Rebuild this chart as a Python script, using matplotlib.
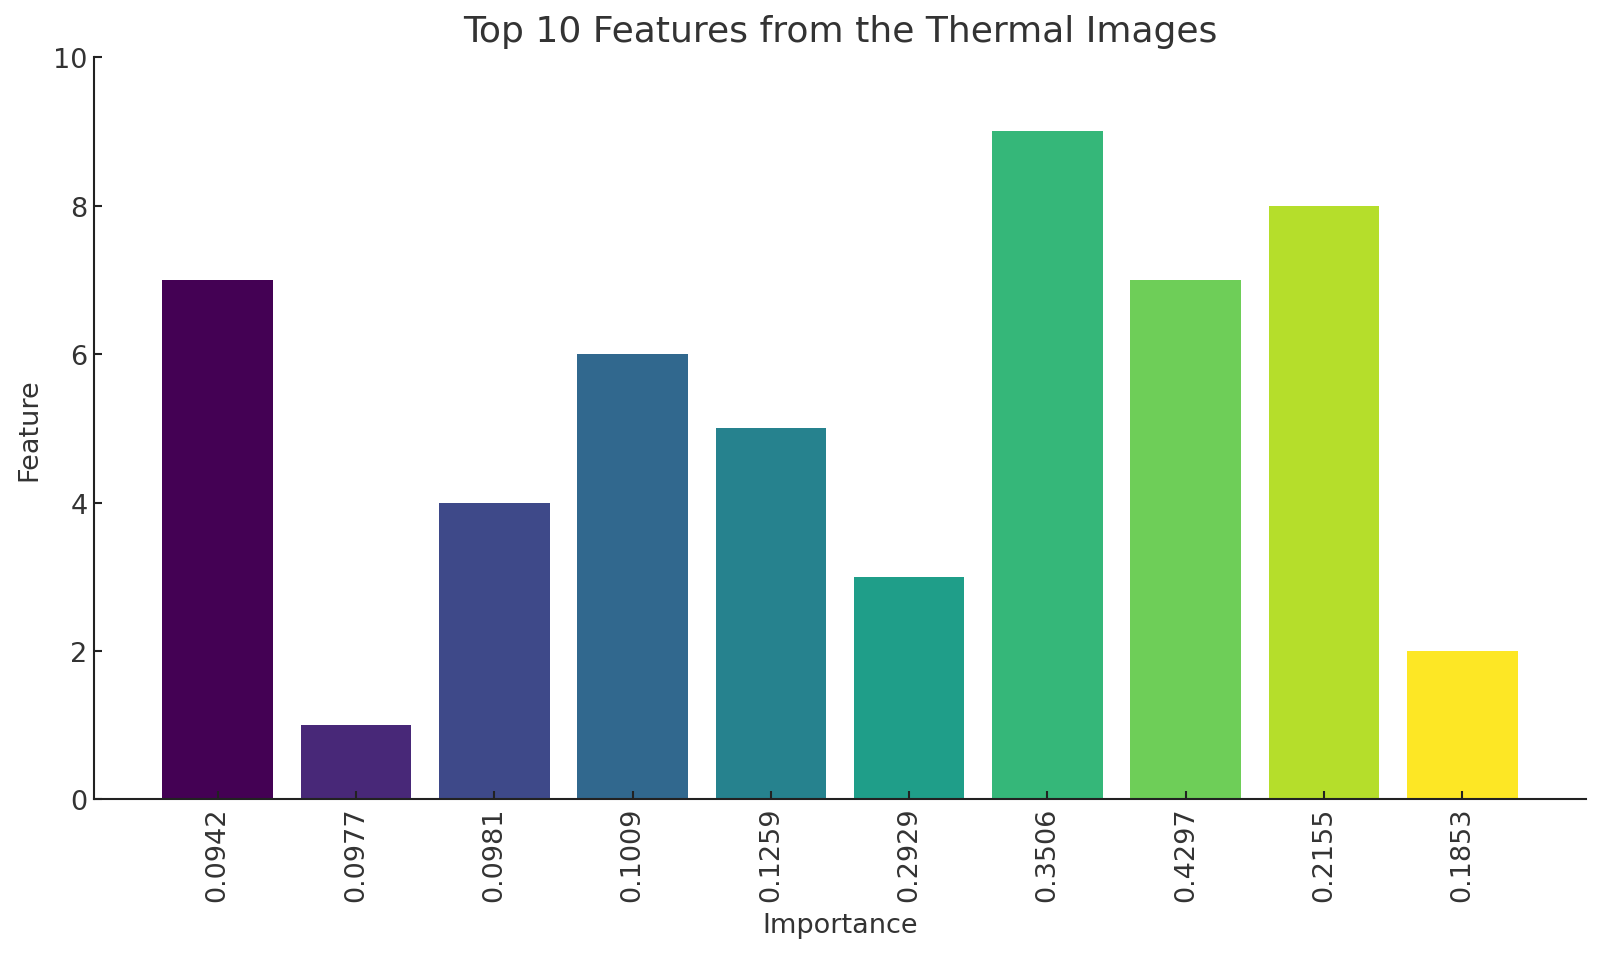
import numpy as np
import matplotlib
matplotlib.use("Agg")
import matplotlib.pyplot as plt

# ── Data ──────────────────────────────────────────────────────────────────────
importance_labels = ["0.0942", "0.0977", "0.0981", "0.1009", "0.1259",
                     "0.2929", "0.3506", "0.4297", "0.2155", "0.1853"]
feature_values = [7, 1, 4, 6, 5, 3, 9, 7, 8, 2]

TEXT = "#333333"

fig = plt.figure(figsize=(16, 9.54), dpi=100)
ax = fig.add_axes([0.059, 0.161, 0.932, 0.778])

colors = plt.cm.viridis(np.linspace(0, 1, len(feature_values)))
x = np.arange(len(feature_values))
ax.bar(x, feature_values, color=colors, width=0.8)

ax.set_xticks(x)
ax.set_xticklabels(importance_labels, rotation=90, fontsize=19.5, color=TEXT)
ax.set_ylim(0, 10)
ax.set_yticks(range(0, 11, 2))
ax.tick_params(axis="y", labelsize=19.5, labelcolor=TEXT)
ax.tick_params(direction="in", length=6, width=1.5, color="#222222", pad=5)

ax.set_xlabel("Importance", fontsize=19.5, color=TEXT, labelpad=8)
ax.set_ylabel("Feature", fontsize=19.5, color=TEXT, labelpad=8)
ax.set_title("Top 10 Features from the Thermal Images", fontsize=26,
             color=TEXT, pad=12)

for side in ("top", "right"):
    ax.spines[side].set_visible(False)
for side in ("left", "bottom"):
    ax.spines[side].set_linewidth(1.5)
    ax.spines[side].set_color("#222222")

fig.savefig("out.png", dpi=100)
